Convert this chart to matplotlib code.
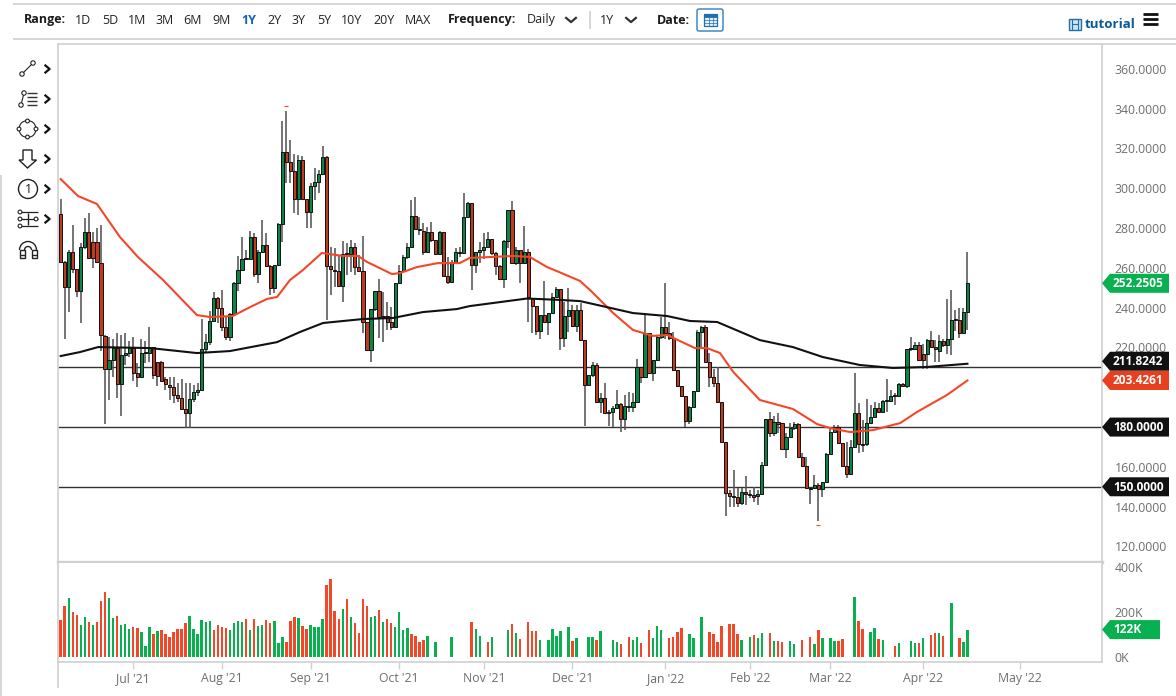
"""Daily candlestick chart with 50/200 day averages and a volume pane."""
import matplotlib

matplotlib.use("Agg")
import matplotlib.pyplot as plt
import numpy as np
from matplotlib.patches import Circle, Polygon, Rectangle, Arc, FancyBboxPatch

plt.rcParams["font.family"] = ["Open Sans", "DejaVu Sans"]

W, H = 1176, 696

opens = [
    286.7, 262.7, 249.8, 267.8, 258.9, 248, 270, 277.8, 272.8, 272.8,
    262.3, 225.5, 209, 213.3, 219.5, 201, 215.8, 217, 219.5, 206.6,
    205, 217, 217, 220, 212.5, 212.5, 203.8, 200.8, 199.6, 195.7,
    194, 188.5, 186.5, 193.5, 197, 198.2, 218.9, 222.2, 233, 244.3,
    239.6, 230, 225, 236.4, 252.2, 258.5, 264, 264, 275, 256.4,
    267.8, 271, 260.7, 249.3, 261, 281.5, 318, 313, 308.3, 294.2,
    314, 294.2, 287.5, 300.7, 302.7, 306.8, 315.5, 260.7, 258.6, 258.2,
    250.5, 266.6, 266.6, 270.2, 259.9, 258.2, 232.2, 218.3, 239, 248,
    235, 235.5, 232.5, 230, 252, 258.2, 264.9, 270, 285.8, 278.8,
    278, 267.4, 277.4, 273.6, 266.6, 277.4, 255.7, 252.7, 262.7, 267.2,
    267, 285.3, 292, 261, 267.4, 268.6, 270.2, 274, 266.9, 260.7,
    254, 273.3, 288.7, 261.9, 268.6, 262, 267.7, 244.3, 240.4, 227.8,
    235.9, 232.2, 236.7, 245, 248.8, 224.5, 235.6, 238.4, 230.4, 238.4,
    223.3, 200.7, 205.7, 211, 192, 194, 186.5, 187.3, 189, 191,
    183.5, 190, 189.5, 192, 209.9, 204.9, 227, 207, 213.3, 224.7,
    229.7, 227, 224.5, 208.2, 200.4, 195.2, 182.6, 189.5, 197.7, 227.5,
    229.7, 212.4, 204.9, 202, 192, 172.3, 146.6, 144.9, 144.7, 141.3,
    147.1, 145.5, 145.4, 144.9, 145.8, 160.5, 183.5, 176.8, 182.3, 181.8,
    168.4, 174.4, 179, 181, 164.7, 160, 148.8, 148.8, 150.5, 148.3,
    151.8, 165.9, 177.3, 179.8, 171.4, 160, 155.8, 169.4, 186.5, 170.9,
    170.9, 181.5, 184.8, 189, 187, 192.9, 192.6, 195.4, 195.4, 201.2,
    200.4, 218.7, 219, 221, 216.1, 216.1, 223.3, 219.6, 218, 222.8,
    220.8, 223.9, 233.4, 233.4, 227, 237.3,
]
closes = [
    262.7, 249.8, 267.8, 258.9, 248, 270.3, 277.8, 264.4, 264.4, 262.4,
    225.9, 209, 213.3, 219.5, 201, 216, 217, 219.5, 206.6, 205,
    217, 217, 220, 205.8, 205.5, 203, 201.3, 199.6, 195.7, 194,
    188.5, 186.5, 193.5, 197, 198.2, 218.9, 222.2, 233, 244.3, 239.6,
    230, 225, 236.4, 252.2, 258.5, 264, 264, 275, 256.4, 267.8,
    271, 260.7, 249.3, 261, 281.7, 318, 313, 308.3, 294.2, 314,
    294.2, 287.5, 300.7, 302.7, 306.8, 315.5, 260.7, 259, 258.2, 250.5,
    266.6, 266.4, 270.2, 259.9, 258.2, 232.2, 218.3, 239, 248, 235,
    235, 232.5, 230, 252, 258.2, 264.9, 270, 285.8, 279, 278.6,
    267.4, 277.4, 273.6, 266.6, 277.4, 255.7, 252.7, 262.7, 267.4, 267.4,
    285.3, 292, 261, 267.4, 268.6, 270.2, 274, 266.9, 260.7, 254,
    273.3, 288.7, 261.9, 268.6, 262, 267.7, 244.8, 240.4, 227.8, 235.9,
    232.2, 236.7, 245, 248.8, 224.5, 235.6, 238.4, 230.4, 238.4, 223.3,
    200.7, 205.7, 211, 192, 194, 186.5, 187.3, 189, 191, 183.5,
    190.3, 189.8, 192, 209.9, 204.9, 227, 207, 213.3, 224.7, 229.7,
    227, 224.5, 208.2, 200.4, 195.2, 182.6, 189.5, 197.7, 227.5, 229.7,
    212.4, 204.9, 202, 192, 172.3, 146.6, 144.9, 144.7, 141.3, 147.1,
    146, 145.4, 144.6, 145.8, 160.5, 183.5, 176.8, 182.3, 181, 168.4,
    174.4, 179.3, 181, 164.7, 160, 148.8, 148.6, 150.5, 148.3, 151.8,
    165.9, 177.3, 179.8, 171.4, 160, 155.8, 169.4, 186.5, 170.9, 170.7,
    181.5, 184.8, 189, 187, 192.9, 193, 195.4, 195.2, 201.2, 200.4,
    218.7, 219, 221, 213.3, 213.3, 223.3, 219.6, 219, 222.8, 220.8,
    223.9, 233.4, 233.4, 227, 237.3, 251.8505,
]
highs = [
    294, 263, 268.6, 281, 259, 272, 284.5, 287.4, 277.8, 279.5,
    281, 226, 225, 224, 226.7, 226, 226.7, 223, 225, 212,
    224, 223, 230, 220, 212.5, 213, 205, 205, 205, 201.6,
    204, 201.6, 201.6, 200.8, 201.6, 234, 226.2, 238, 247.6, 245,
    248.5, 235, 237, 252.5, 265.6, 275.3, 268.6, 278.3, 277, 268.6,
    283.7, 277, 261, 261, 282, 333.6, 338.6, 323.8, 317, 316.3,
    316, 294.2, 302, 309.6, 308.8, 320.8, 316, 270, 269.4, 266,
    273, 272, 273.6, 272, 266, 275.6, 232.5, 239, 248, 253.8,
    247.6, 242.6, 240, 252, 261, 266, 272, 293.7, 295.4, 285.3,
    282, 280.3, 282.5, 273.6, 278, 277.4, 265, 263.5, 269.4, 270,
    297, 292.9, 292, 267.8, 272.8, 277, 277.8, 274, 267.8, 261,
    273.6, 288.7, 293, 270, 268.6, 280.8, 269, 244.6, 240.4, 236,
    253, 237, 246.8, 250, 248.8, 242.6, 249.3, 241, 241, 241.7,
    223.3, 206, 212.4, 211.6, 196.5, 201.5, 188, 190, 198, 191.5,
    195.7, 197, 196.5, 214, 210, 235.9, 227, 213.3, 226, 235,
    251.8, 232.5, 227.5, 208.2, 200.4, 195.2, 190, 197.7, 228.3, 230.5,
    230.8, 216.6, 209, 209.9, 192, 172.3, 148, 158, 148.8, 148.8,
    155, 148, 149.6, 148, 162.2, 183.5, 187, 185, 186.8, 181.8,
    176.4, 181.8, 182.3, 181.8, 166.4, 164.7, 149, 155.5, 151.3, 151.8,
    166.4, 179, 180.6, 180.6, 171.4, 172.3, 173, 206.9, 191.5, 183,
    193.5, 190.7, 192.4, 191.5, 193.3, 204, 198.2, 196.5, 201.9, 201.6,
    218.7, 225, 222.5, 222.5, 221.3, 224, 228, 223.3, 225.9, 224,
    243.8, 248.5, 238.4, 239.3, 239.3, 267.4,
]
lows = [
    262, 223.7, 237.6, 257, 245, 232, 269, 264, 259.4, 262,
    218, 181, 193, 205, 194, 185.3, 211, 215, 203, 199.6,
    205, 212, 212.5, 203.8, 200, 202.7, 198, 193, 191.5, 192.4,
    188.5, 179, 179, 192.4, 195, 198, 217, 221, 232.6, 232,
    228, 223.3, 223, 236, 248, 258, 264, 264, 255.2, 251.8,
    267.8, 260, 246, 247, 261, 272.8, 302.4, 302, 287, 286,
    294, 279.5, 279.5, 293.7, 297, 306.8, 233.4, 246, 250, 250,
    242.6, 256, 257.7, 256, 258, 226.7, 218, 212.5, 238, 224.2,
    222.5, 228.4, 228.4, 230, 251.5, 258, 264, 270, 278.6, 276,
    266, 266.9, 272.8, 266, 266, 255, 251.3, 252, 262, 265,
    267, 285, 248.5, 257, 262, 264, 270, 266, 256, 253.5,
    249.3, 269.4, 261.9, 261, 252, 261.5, 232.6, 226.7, 225.8, 224,
    232, 225.8, 236.7, 245, 218.3, 220, 227.5, 230, 227.5, 223,
    180, 200, 205, 192, 186.5, 186, 180, 179.4, 189, 177.3,
    178, 187, 187.3, 192, 201.5, 204.5, 207, 203, 213, 224,
    224, 223.3, 208, 199.5, 194.5, 179.4, 181, 189.5, 197.5, 220,
    212.4, 199.9, 199.5, 191.5, 172.2, 134.9, 139.6, 139.6, 139.6, 140.4,
    140.4, 143.8, 142, 140.4, 145.8, 160.5, 174.8, 175, 176.8, 168.4,
    163.9, 174.4, 178, 164.7, 159.7, 148.8, 140.8, 148.8, 132.6, 144.6,
    151.8, 165.9, 177.3, 171.4, 160, 153.9, 155.8, 169.4, 166.4, 167,
    170.2, 181.5, 184.8, 186.5, 187, 187, 192, 190.7, 195.4, 200.4,
    199, 218, 219, 213.3, 209, 209, 219.6, 212.5, 212.5, 220,
    216.4, 215.8, 228, 224.2, 227, 228.4,
]
volume_k = [
    165, 227, 262, 202, 187, 144, 180, 154, 141, 158,
    248, 289, 261, 173, 183, 142, 148, 126, 135, 129,
    110, 51, 133, 101, 116, 119, 103, 89, 110, 126,
    125, 151, 183, 126, 104, 165, 158, 160, 122, 144,
    132, 130, 122, 152, 160, 154, 168, 120, 170, 136,
    142, 164, 152, 161, 64, 89, 66, 160, 180, 174,
    136, 126, 141, 135, 135, 168, 319, 346, 206, 171,
    212, 256, 177, 152, 108, 258, 225, 176, 182, 209,
    158, 168, 152, 133, 199, 119, 130, 101, 92, 66,
    78, 92, 0, 69, 0, 0, 0, 89, 0, 0,
    0, 0, 157, 125, 95, 0, 66, 89, 0, 0,
    0, 122, 146, 108, 81, 0, 158, 114, 114, 78,
    0, 78, 125, 95, 116, 0, 132, 73, 83, 0,
    0, 89, 91, 75, 117, 0, 0, 78, 67, 60,
    0, 89, 78, 91, 62, 0, 122, 85, 139, 122,
    0, 86, 89, 111, 129, 0, 104, 85, 0, 177,
    0, 113, 104, 69, 139, 0, 146, 148, 104, 78,
    0, 89, 100, 86, 107, 0, 107, 70, 73, 69,
    0, 73, 60, 0, 78, 0, 91, 59, 120, 85,
    0, 83, 72, 73, 79, 0, 0, 268, 161, 125,
    0, 113, 130, 82, 76, 0, 0, 47, 62, 0,
    0, 72, 62, 62, 83, 0, 97, 108, 107, 95,
    0, 242, 0, 83, 69, 122,
]
volume_sides = (
    "rrgrrggrgr" "rrggrgggrr" "gggrgrrrrr" "rrggggggrr"
    "rrggggrgrg" "grrgggrrrg" "rrggggrrrr" "grgrrrrggr"
    "grrggggrrr" "rgggrggggg" "ggrgggrggg" "ggrgrgrrrg"
    "gggggggrgg" "gggrgggggr" "grggrgrggg" "grrrrggggg"
    "grrrrgrrrg" "ggrgggrgrr" "ggggrgrgrg" "gggrrgggrr"
    "gggrgggrgg" "gggrggrrgr" "gggrgg"
)

# the two moving averages, read at the bends of each curve
ma50_x = [0, 4.3, 9, 14.7, 19.2, 25.4, 33.8, 37, 42.7, 47, 51.2, 53.7, 56.9, 60.1, 64.8, 70, 73.8, 76,
          82.2, 84.2, 88.4, 93.6, 99, 101.5, 107.2, 112.2, 116.4, 120.7, 123.1, 128.9, 132.1, 137.1, 142,
          147, 150.5, 153.7, 157.4, 160.4, 163.6, 166.9, 173.5, 181.7, 187.7, 190.9, 195.9, 201.6, 208.3,
          212.5, 219.9, 225]
ma50_y = [304.6, 296.1, 292.1, 275.5, 265.4, 253.9, 236.3, 235.3, 235.8, 240.3, 244.4, 245.4, 253.9, 258.9,
          267.5, 266, 266, 263, 256.9, 257.4, 260.4, 262.4, 262.4, 265, 265.5, 266, 265.5, 260.4, 258.4,
          253.4, 247.4, 237.3, 228.8, 225.8, 226.3, 223.2, 219.7, 219.7, 217.2, 207.7, 193.6, 189.1, 181.5,
          179.5, 177.5, 178.5, 182, 187.6, 196.1, 203.4261]
ma200_x = [0, 4.8, 9.3, 22.2, 33.8, 42, 53.7, 59.4, 65.1, 75, 82.4, 89.9, 98.3, 101.5, 109, 115.7, 123.9,
           128.9, 135.5, 142, 150.5, 156.2, 162.9, 173.5, 181.7, 189.1, 198.3, 206.5, 214.9, 225]
ma200_y = [215.7, 217.7, 220.2, 219.7, 217.2, 218.2, 222.7, 227.8, 232.3, 234.3, 234.8, 237.8, 239.3, 240.8,
           242.8, 244.6, 243.9, 243.3, 240.3, 237.3, 235.8, 233.3, 232.8, 223.7, 220.2, 215.2, 211.2, 209.7,
           210.2, 211.8242]

price_ticks = [360, 340, 320, 300, 280, 260, 240, 220, 160, 140, 120]
level_lines = [210, 180, 150]
volume_ticks = [0, 200, 400]
month_pos = [18, 40, 62, 84, 105, 127, 150, 171, 191, 214, 238]
month_labels = ["Jul '21", "Aug '21", "Sep '21", "Oct '21", "Nov '21", "Dec '21",
                "Jan '22", "Feb '22", "Mar '22", "Apr '22", "May '22"]
range_labels = ["1D", "5D", "1M", "3M", "6M", "9M", "1Y", "2Y", "3Y", "5Y", "10Y", "20Y", "MAX"]
range_x = [83, 110, 137, 165, 193, 222, 249, 274, 299, 324, 352, 384, 418]

CANDLE_UP, CANDLE_DOWN = "#0c8445", "#bf3b20"
VOL_UP, VOL_DOWN = "#08b04f", "#f4472a"
GRID = "#d0d0d0"
LABEL = "#6e6e6e"
READ_OFFSET = 0.4  # candle values were read against a slightly lower scale


def px_axes(fig, left, top, right, bottom):
    return fig.add_axes([left / W, 1 - bottom / H, (right - left) / W, (bottom - top) / H])


fig = plt.figure(figsize=(W / 100, H / 100), dpi=100, facecolor="white")
ax = px_axes(fig, 58, 44, 1102, 562)
vax = px_axes(fig, 58, 563, 1102, 662)
xlim = (-0.67, 258.4)

o = np.array(opens) + READ_OFFSET
c = np.array(closes) + READ_OFFSET
hi = np.array(highs) + READ_OFFSET
lo = np.array(lows) + READ_OFFSET
idx = np.arange(len(o))
up = c >= o

ax.hlines(level_lines, *xlim, color="#333333", lw=1.0, zorder=1)
ax.vlines(idx, lo, hi, color="#555555", lw=1.15, zorder=2)
ax.bar(idx, np.maximum(np.abs(c - o), 0.5), bottom=np.minimum(o, c), width=0.78,
       color=[CANDLE_UP if u else CANDLE_DOWN for u in up], edgecolor="#111111", lw=0.7, zorder=3)
ax.plot(ma50_x, ma50_y, color="#f4472a", lw=1.5, zorder=4, solid_joinstyle="round")
ax.plot(ma200_x, ma200_y, color="#111111", lw=1.5, zorder=4, solid_joinstyle="round")
# small ticks the chart puts on the period high and low
ax.plot(idx[hi.argmax()], hi.max() + 2.4, marker="_", ms=2.2, mew=0.8, color="#f4472a", zorder=4)
ax.plot(idx[lo.argmin()], lo.min() - 2.4, marker="_", ms=2.2, mew=0.8, color="#f4472a", zorder=4)

ax.set_xlim(xlim)
ax.set_ylim(112.2, 372.5)
ax.yaxis.tick_right()
ax.set_yticks(price_ticks, [f"{t:.4f}" for t in price_ticks])
ax.set_xticks([])
ax.tick_params(axis="y", length=0, pad=9, labelsize=8.8, labelcolor=LABEL)

vols = np.array(volume_k)
vax.bar(idx, vols, width=0.62, color=[VOL_UP if s == "g" else VOL_DOWN for s in volume_sides], zorder=2)
vax.set_xlim(xlim)
vax.set_ylim(-22, 418)
vax.yaxis.tick_right()
vax.set_yticks(volume_ticks, [f"{t}K" for t in volume_ticks])
vax.set_xticks(month_pos, month_labels)
vax.tick_params(axis="y", length=0, pad=9, labelsize=8.8, labelcolor=LABEL)
vax.tick_params(axis="x", length=5, width=1, color=GRID, pad=2, labelsize=8.8, labelcolor=LABEL)

for a in (ax, vax):
    for side in a.spines:
        a.spines[side].set_color(GRID)
        a.spines[side].set_linewidth(1.2)
ax.spines["bottom"].set_linewidth(2.4)
vax.spines["top"].set_visible(False)

# page furniture is placed in a full-figure overlay measured in pixels
ov = fig.add_axes([0, 0, 1, 1], facecolor="none")
ov.set_xlim(0, W)
ov.set_ylim(H, 0)
ov.axis("off")


def rule(x0, y0, x1, y1, color=GRID, lw=1.2):
    ov.plot([x0, x1], [y0, y1], color=color, lw=lw, solid_capstyle="butt")


def chevron(x, y, size=3.5, color="#111111", lw=1.6, down=False):
    if down:
        ov.plot([x - size * 1.4, x, x + size * 1.4], [y - size * 0.6, y + size * 0.6, y - size * 0.6],
                color=color, lw=lw)
    else:
        ov.plot([x - size * 0.6, x + size * 0.6, x - size * 0.6], [y - size, y, y + size], color=color, lw=lw)


def node(x, y, r=2.2):
    ov.add_patch(Circle((x, y), r, fc="white", ec="#222222", lw=0.8, zorder=6))


def price_tag(value_y, label, color, right=1169):
    ov.add_patch(Polygon([(1102, value_y), (1110, value_y - 9.5), (right, value_y - 9.5),
                          (right, value_y + 9.5), (1110, value_y + 9.5)], closed=True, fc=color, ec="none", zorder=5))
    ov.text(1113, value_y + 0.3, label, color="white", fontsize=8.6, fontweight="bold", va="center", zorder=6)


def price_y(p):
    return ov.transData.inverted().transform(ax.transData.transform((0, p)))[1]


def vol_y(v):
    return ov.transData.inverted().transform(vax.transData.transform((0, v)))[1]


rule(13, 3.5, W, 3.5)
rule(13, 38.5, W, 38.5)
rule(1102, 44, W, 44)
rule(0.6, 175, 0.6, H)
rule(58, 662, 58, 688)

ov.text(24, 20, "Range:", fontsize=9, fontweight="bold", color="#1c1c1c", va="center")
for x, lab in zip(range_x, range_labels):
    active = lab == "1Y"
    ov.text(x, 20, lab, fontsize=9, ha="center", va="center",
            color="#1565b0" if active else "#222222", fontweight="bold" if active else "normal")
ov.text(448, 20, "Frequency:", fontsize=9, fontweight="bold", color="#1c1c1c", va="center")
ov.text(527, 20, "Daily", fontsize=9, color="#222222", va="center")
chevron(571, 20, down=True, color="#333333")
rule(590, 11, 590, 29)
ov.text(600, 20, "1Y", fontsize=9, color="#222222", va="center")
chevron(631, 20, down=True, color="#333333")
ov.text(657, 20, "Date:", fontsize=9, fontweight="bold", color="#1c1c1c", va="center")

# calendar button
ov.add_patch(FancyBboxPatch((697, 9), 26, 22, boxstyle="round,pad=0,rounding_size=2", fc="white", ec="#2d7fc1", lw=1))
ov.add_patch(Rectangle((704, 14), 13, 12, fc="#e6f0f8", ec="#1d6fb5", lw=0.9))
ov.add_patch(Rectangle((704, 14), 13, 3, fc="#1d6fb5", ec="#1d6fb5", lw=0.6))
for gx in (708.5, 712.5):
    rule(gx, 17, gx, 26, color="#1d6fb5", lw=0.5)
for gy in (20, 23):
    rule(704, gy, 717, gy, color="#1d6fb5", lw=0.5)

# tutorial link and menu
ov.add_patch(Rectangle((1068.5, 18.5), 12.5, 11, fc="#cfe2f1", ec="#1f6fa8", lw=1))
rule(1072, 18.5, 1072, 29.5, color="#1f6fa8", lw=0.8)
rule(1077.5, 18.5, 1077.5, 29.5, color="#1f6fa8", lw=0.8)
rule(1072, 24, 1077.5, 24, color="#1f6fa8", lw=0.8)
ov.text(1085, 24, "tutorial", fontsize=9.6, fontweight="bold", color="#0b5a94", va="center")
for my in (14, 18.5, 23.5):
    rule(1143, my, 1158, my, color="#111111", lw=2.0)

# drawing toolbar down the left side
for ty in (69, 99, 129, 159, 189, 219):
    chevron(47.5, ty)
rule(22, 74, 33, 63, color="#222222", lw=0.8)
node(22, 74)
node(33, 63)
rule(21, 105, 24, 93, color="#222222", lw=0.8)
node(21, 105)
node(24, 93)
for ly in (93, 97, 101, 105):
    rule(27, ly, 37, ly, color="#333333", lw=1.0)
ov.add_patch(Circle((27.5, 129), 8.5, fc="none", ec="#222222", lw=0.8))
for nx, ny in ((27.5, 121), (19, 129), (36, 129), (27.5, 137)):
    node(nx, ny, 1.9)
ov.add_patch(Polygon([(23, 150), (32, 150), (32, 160), (36.5, 160), (27.5, 168), (19, 160), (23, 160)],
                     closed=True, fc="white", ec="#222222", lw=1.0))
ov.add_patch(Circle((28, 189), 9.5, fc="white", ec="#222222", lw=1.0))
ov.text(28, 189.5, "1", fontsize=9, color="#222222", ha="center", va="center")
for ly, nx in ((212, 20), (219, 20), (226, 20)):
    rule(nx, ly, 38, ly, color="#222222", lw=0.9)
    node(nx, ly, 1.9)
rule(28, 213, 28, 225, color="#222222", lw=1.0)
node(36, 219, 1.9)
ov.add_patch(Arc((28, 250), 17, 17, theta1=180, theta2=360, ec="#222222", lw=1.0))
ov.add_patch(Arc((28, 250), 7, 7, theta1=180, theta2=360, ec="#222222", lw=1.0))
for mx in (19.5, 31.5):
    ov.add_patch(Rectangle((mx, 250), 5, 8, fc="white", ec="#222222", lw=1.0))
    rule(mx, 255, mx + 5, 255, color="#222222", lw=1.0)

# value tags on the right axis
price_tag(price_y(c[-1]), f"{c[-1]:.4f}", "#08b04f")
price_tag(price_y(ma200_y[-1]) - 2.5, f"{ma200_y[-1]:.4f}", "#111111")
price_tag(price_y(ma50_y[-1]), f"{ma50_y[-1]:.4f}", "#e8401f")
price_tag(price_y(180), "180.0000", "#111111")
price_tag(price_y(150), "150.0000", "#111111")
price_tag(vol_y(vols[-1]), f"{vols[-1]}K", "#08b04f", right=1160)

fig.savefig("out.png", dpi=100)
